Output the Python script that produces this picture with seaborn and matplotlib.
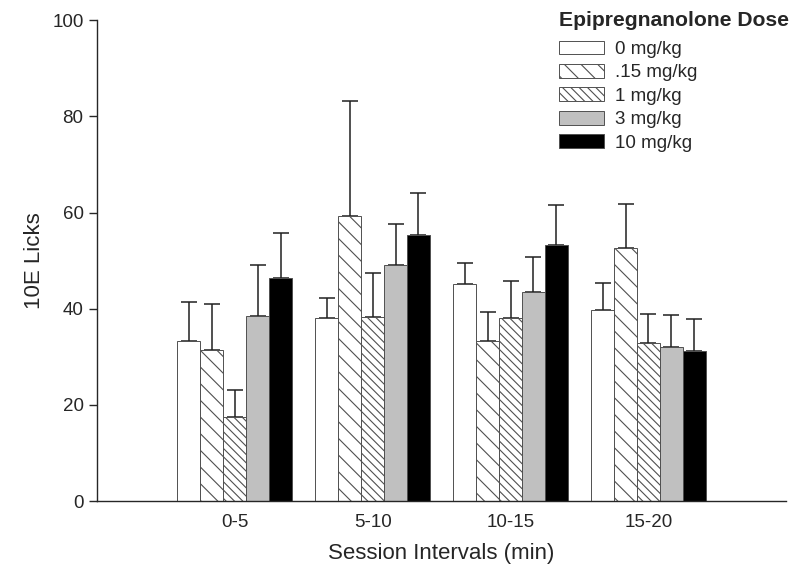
import pandas as pd
import numpy as np
import seaborn as sns
import matplotlib.pyplot as plt

intervals = ['0-5', '5-10', '10-15', '15-20']
doses = ['0 mg/kg', '.15 mg/kg', '1 mg/kg', '3 mg/kg', '10 mg/kg']

# mean licks per dose, one list per interval
licks_0_5 = [33.3, 31.4, 17.5, 38.5, 46.4]
licks_5_10 = [38.0, 59.3, 38.3, 49.1, 55.3]
licks_10_15 = [45.1, 33.3, 38.0, 43.5, 53.2]
licks_15_20 = [39.7, 52.6, 32.8, 32.0, 31.2]

# upper error (SEM) per dose
err_0_5 = [8.1, 9.6, 5.6, 10.6, 9.3]
err_5_10 = [4.2, 23.9, 9.1, 8.5, 8.7]
err_10_15 = [4.4, 6.0, 7.7, 7.2, 8.3]
err_15_20 = [5.6, 9.1, 6.1, 6.7, 6.6]

colors = ['white', 'white', 'white', '#c0c0c0', 'black']
hatches = ['', '\\\\', '\\\\\\\\', '', '']

rows = []
for iv, vals, errs in zip(intervals,
                          [licks_0_5, licks_5_10, licks_10_15, licks_15_20],
                          [err_0_5, err_5_10, err_10_15, err_15_20]):
    for d, v, e in zip(doses, vals, errs):
        rows.append({'Interval': iv, 'Dose': d, 'Licks': v, 'SEM': e})
df = pd.DataFrame(rows)

sns.set_style('ticks')
plt.rcParams['font.family'] = ['Liberation Sans', 'DejaVu Sans']
plt.rcParams['hatch.linewidth'] = 0.8

fig = plt.figure(figsize=(8, 5.78), dpi=100)
ax = fig.add_axes([0.121, 0.133, 0.862, 0.832])

sns.barplot(data=df, x='Interval', y='Licks', hue='Dose', order=intervals,
            hue_order=doses, palette=colors, width=0.83, errorbar=None,
            edgecolor='#505050', linewidth=0.7, ax=ax, zorder=2)

for cont, h, d in zip(ax.containers, hatches, doses):
    sub = df[df['Dose'] == d].set_index('Interval').loc[intervals]
    xs = []
    for bar in cont:
        bar.set_hatch(h)
        xs.append(bar.get_x() + bar.get_width() / 2)
    ax.errorbar(xs, sub['Licks'].values,
                yerr=[np.zeros(len(xs)), sub['SEM'].values],
                fmt='none', ecolor='#202020', elinewidth=1.1,
                capsize=5.5, capthick=1.1, zorder=1)

ax.set_xlim(-1, 4)
ax.set_ylim(0, 100)
ax.set_yticks([0, 20, 40, 60, 80, 100])
ax.tick_params(axis='y', labelsize=13.5, length=6, width=1, direction='out')
ax.tick_params(axis='x', labelsize=13.5, length=0, pad=9)
sns.despine(ax=ax)
ax.spines['left'].set_linewidth(1)
ax.spines['bottom'].set_linewidth(1)

ax.set_xlabel('Session Intervals (min)', fontsize=16, labelpad=9)
ax.set_ylabel('10E Licks', fontsize=16, labelpad=5)

for bar, h in zip(ax.get_legend_handles_labels()[0], hatches):
    bar.set_hatch(h)
leg = ax.legend(title='Epipregnanolone Dose', loc='upper left',
                bbox_to_anchor=(0.687, 0.998), bbox_transform=fig.transFigure,
                frameon=False, fontsize=13.5,
                title_fontproperties={'weight': 'bold', 'size': 15.2},
                handlelength=2.4, handleheight=0.75, labelspacing=0.32,
                handletextpad=0.6, borderpad=0, alignment='left')
leg._legend_box.sep = 8

fig.savefig('out.png', dpi=100)
